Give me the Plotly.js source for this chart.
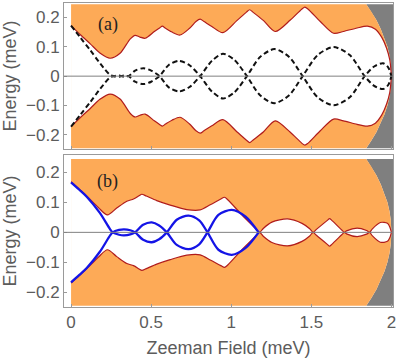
<!DOCTYPE html>
<html>
<head>
<meta charset="utf-8">
<script src="https://cdn.plot.ly/plotly-3.0.1.min.js"></script>
<style>
  html, body { margin: 0; padding: 0; background: #fff; }
  #plot { width: 399px; height: 359px; }
</style>
</head>
<body>
<div id="plot"></div>
<script>
// tick labels
const fieldTicks = [0, 0.5, 1, 1.5, 2];
const fieldTickText = ["0", "0.5", "1", "1.5", "2"];
const energyTicks = [-0.2, -0.1, 0, 0.1, 0.2];
const energyTickText = ["\u22120.2", "\u22120.1", "0", "0.1", "0.2"];

// outer edge of the shaded region (right boundary where it turns gray)
const edgeTop = 0.245;
const fieldEnd = 2.01;
const edgeE = [0.245, 0.22, 0.19, 0.16, 0.13, 0.10, 0.07, 0.04, 0, -0.04, -0.07, -0.10, -0.13, -0.16, -0.19, -0.22, -0.245];
const edgeZ = [1.843, 1.874, 1.907, 1.934, 1.957, 1.975, 1.988, 1.996, 2.0, 1.996, 1.988, 1.975, 1.957, 1.934, 1.907, 1.874, 1.843];

// panel (a): gap edge (red) and dashed subgap states
const zGapA = [0, 0.06, 0.12, 0.18, 0.244, 0.306, 0.37, 0.40, 0.43, 0.463, 0.52, 0.555, 0.57, 0.59, 0.63, 0.681, 0.74, 0.78, 0.806, 0.83, 0.879, 0.948, 1.035, 1.095, 1.115, 1.135, 1.202, 1.275, 1.369, 1.44, 1.46, 1.48, 1.556, 1.639, 1.70, 1.786, 1.85, 1.90, 1.94, 1.97, 1.99, 2.0];
const eGapAUp = [0.172, 0.140, 0.110, 0.079, 0.061, 0.078, 0.127, 0.139, 0.133, 0.129, 0.152, 0.165, 0.170, 0.163, 0.150, 0.140, 0.163, 0.186, 0.194, 0.186, 0.169, 0.148, 0.189, 0.218, 0.226, 0.218, 0.189, 0.152, 0.191, 0.228, 0.235, 0.228, 0.186, 0.146, 0.152, 0.164, 0.170, 0.160, 0.132, 0.095, 0.055, 0];
const eGapALow = [-0.172, -0.140, -0.110, -0.079, -0.061, -0.078, -0.127, -0.139, -0.133, -0.129, -0.152, -0.165, -0.170, -0.163, -0.150, -0.140, -0.163, -0.186, -0.194, -0.186, -0.169, -0.148, -0.189, -0.218, -0.226, -0.218, -0.189, -0.152, -0.191, -0.228, -0.235, -0.228, -0.186, -0.146, -0.152, -0.164, -0.170, -0.160, -0.132, -0.095, -0.055, 0];

const zDashA = [0, 0.06, 0.119, 0.181, 0.244, 0.27, 0.30, 0.33, 0.358, 0.40, 0.452, 0.50, 0.552, 0.61, 0.675, 0.74, 0.806, 0.879, 0.948, 1.02, 1.098, 1.18, 1.269, 1.36, 1.446, 1.54, 1.639, 1.74, 1.833, 1.89, 1.948, 1.98, 2.0];
const eDashA1 = [0.172, 0.130, 0.089, 0.044, 0.004, 0, -0.002, 0.002, 0, 0.019, 0.027, 0.019, 0, -0.038, -0.052, -0.037, 0, 0.052, 0.076, 0.055, 0, -0.065, -0.092, -0.066, 0, 0.072, 0.099, 0.072, 0, -0.032, -0.044, -0.030, 0];
const eDashA2 = [-0.172, -0.130, -0.089, -0.044, -0.004, 0, 0.002, -0.002, 0, -0.019, -0.027, -0.019, 0, 0.038, 0.052, 0.037, 0, -0.052, -0.076, -0.055, 0, 0.065, 0.092, 0.066, 0, -0.072, -0.099, -0.072, 0, 0.032, 0.044, 0.030, 0];

// panel (b): gap edge (red) and blue subgap states
const zGapB = [0, 0.05, 0.10, 0.17, 0.227, 0.285, 0.348, 0.39, 0.425, 0.442, 0.47, 0.535, 0.619, 0.723, 0.806, 0.869, 0.935, 0.958, 0.98, 1.067, 1.15, 1.177, 1.20, 1.254, 1.352, 1.442, 1.49, 1.511, 1.53, 1.60, 1.614, 1.628, 1.69, 1.706, 1.72, 1.786, 1.845, 1.864, 1.88, 1.931, 1.975, 1.99, 2.0];
const eGapBUp = [0.169, 0.145, 0.120, 0.083, 0.058, 0.081, 0.104, 0.111, 0.122, 0.127, 0.121, 0.106, 0.091, 0.076, 0.075, 0.092, 0.111, 0.117, 0.108, 0.058, 0.014, 0, 0.013, 0.034, 0.045, 0.030, 0.012, 0, 0.009, 0.040, 0.046, 0.040, 0.008, 0, 0.005, 0.014, 0.006, 0, 0.011, 0.033, 0.030, 0.018, 0];
const eGapBLow = [-0.169, -0.145, -0.120, -0.083, -0.058, -0.081, -0.104, -0.111, -0.122, -0.127, -0.121, -0.106, -0.091, -0.076, -0.075, -0.092, -0.111, -0.117, -0.108, -0.058, -0.014, 0, -0.013, -0.034, -0.045, -0.030, -0.012, 0, -0.009, -0.040, -0.046, -0.040, -0.008, 0, -0.005, -0.014, -0.006, 0, -0.011, -0.033, -0.030, -0.018, 0];

const zBlueB = [0, 0.05, 0.098, 0.181, 0.244, 0.26, 0.30, 0.33, 0.37, 0.40, 0.45, 0.504, 0.55, 0.598, 0.66, 0.733, 0.80, 0.852, 0.92, 1.004, 1.09, 1.171];
const eBlueB1 = [0.167, 0.143, 0.119, 0.064, 0.010, 0, -0.008, -0.010, -0.007, 0, 0.025, 0.033, 0.023, 0, -0.042, -0.056, -0.040, 0, 0.058, 0.075, 0.052, 0];
const eBlueB2 = [-0.167, -0.143, -0.119, -0.064, -0.010, 0, 0.008, 0.010, 0.007, 0, -0.025, -0.033, -0.023, 0, 0.042, 0.056, 0.040, 0, -0.058, -0.075, -0.052, 0];

const orange = "#fdaa57";
const gray = "#7f7f7f";
const red = "#b01c1c";
const frame = "#9a9a9a";

function panelTraces(xa, ya, zGap, eUp, eLow, zSub, eSub1, eSub2, subLine) {
  const traces = [];
  // gray beyond the edge
  traces.push({
    x: edgeZ.concat([fieldEnd, fieldEnd]),
    y: edgeE.concat([-edgeTop, edgeTop]),
    xaxis: xa, yaxis: ya, type: "scatter", mode: "lines",
    fill: "toself", fillcolor: gray, line: { width: 0 }, hoverinfo: "skip"
  });
  // orange continuum inside the edge
  traces.push({
    x: [0].concat(edgeZ, [0]),
    y: [edgeTop].concat(edgeE, [-edgeTop]),
    xaxis: xa, yaxis: ya, type: "scatter", mode: "lines",
    fill: "toself", fillcolor: orange, line: { width: 0 }, hoverinfo: "skip"
  });
  // white gap between the edges
  traces.push({
    x: zGap, y: eLow, xaxis: xa, yaxis: ya, type: "scatter", mode: "lines",
    line: { width: 0, shape: "spline", smoothing: 0.8 }, hoverinfo: "skip"
  });
  traces.push({
    x: zGap, y: eUp, xaxis: xa, yaxis: ya, type: "scatter", mode: "lines",
    fill: "tonexty", fillcolor: "#ffffff",
    line: { width: 0, shape: "spline", smoothing: 0.8 }, hoverinfo: "skip"
  });
  for (const e of [eUp, eLow]) {
    traces.push({
      x: zGap, y: e, xaxis: xa, yaxis: ya, type: "scatter", mode: "lines",
      line: { color: red, width: 1.2, shape: "spline", smoothing: 0.8 }
    });
  }
  for (const e of [eSub1, eSub2]) {
    traces.push({
      x: zSub, y: e, xaxis: xa, yaxis: ya, type: "scatter", mode: "lines",
      line: Object.assign({ shape: "spline", smoothing: 0.8 }, subLine)
    });
  }
  return traces;
}

const data = [].concat(
  panelTraces("x", "y", zGapA, eGapAUp, eGapALow, zDashA, eDashA1, eDashA2,
    { color: "#111", width: 2, dash: "5px,3px" }),
  panelTraces("x2", "y2", zGapB, eGapBUp, eGapBLow, zBlueB, eBlueB1, eBlueB2,
    { color: "#1414e6", width: 2.3 })
);

const axisStyle = {
  showline: true, mirror: true, linecolor: frame, linewidth: 1,
  showgrid: false, zeroline: false,
  ticks: "inside", ticklen: 3, tickcolor: frame,
  tickfont: { size: 17, color: "#5c5c5c" }
};

const layout = {
  width: 399, height: 359,
  margin: { l: 64, r: 6, t: 3, b: 52 },
  paper_bgcolor: "#fff", plot_bgcolor: "#fff",
  showlegend: false,
  font: { family: "Liberation Sans, Arial, sans-serif", color: "#5c5c5c" },
  xaxis: Object.assign({}, axisStyle, {
    anchor: "y", domain: [0, 1], range: [-0.044, 2.01],
    tickvals: fieldTicks, ticktext: fieldTickText, showticklabels: false
  }),
  yaxis: Object.assign({}, axisStyle, {
    anchor: "x", domain: [0.5197, 1], range: [-0.248, 0.249],
    tickvals: energyTicks, ticktext: energyTickText,
    title: { text: "Energy (meV)", font: { size: 18, color: "#5c5c5c" }, standoff: 4 }
  }),
  xaxis2: Object.assign({}, axisStyle, {
    anchor: "y2", domain: [0, 1], range: [-0.044, 2.01],
    tickvals: fieldTicks, ticktext: fieldTickText,
    title: { text: "Zeeman Field (meV)", font: { size: 18, color: "#5c5c5c" }, standoff: 9 }
  }),
  yaxis2: Object.assign({}, axisStyle, {
    anchor: "x2", domain: [0, 0.5], range: [-0.249, 0.258],
    tickvals: energyTicks, ticktext: energyTickText,
    title: { text: "Energy (meV)", font: { size: 18, color: "#5c5c5c" }, standoff: 4 }
  }),
  shapes: [
    { type: "line", xref: "x domain", yref: "y", x0: 0, x1: 1, y0: 0, y1: 0,
      layer: "above", line: { color: "#808080", width: 1 } },
    { type: "line", xref: "x2 domain", yref: "y2", x0: 0, x1: 1, y0: 0, y1: 0,
      layer: "above", line: { color: "#808080", width: 1 } }
  ],
  annotations: [
    { text: "(a)", xref: "x", yref: "y", x: 0.228, y: 0.176, showarrow: false,
      font: { family: "Liberation Serif, Times New Roman, serif", size: 18, color: "#222" } },
    { text: "(b)", xref: "x2", yref: "y2", x: 0.228, y: 0.168, showarrow: false,
      font: { family: "Liberation Serif, Times New Roman, serif", size: 18, color: "#222" } }
  ]
};

Plotly.newPlot("plot", data, layout, { displayModeBar: false, staticPlot: true });
</script>
</body>
</html>
